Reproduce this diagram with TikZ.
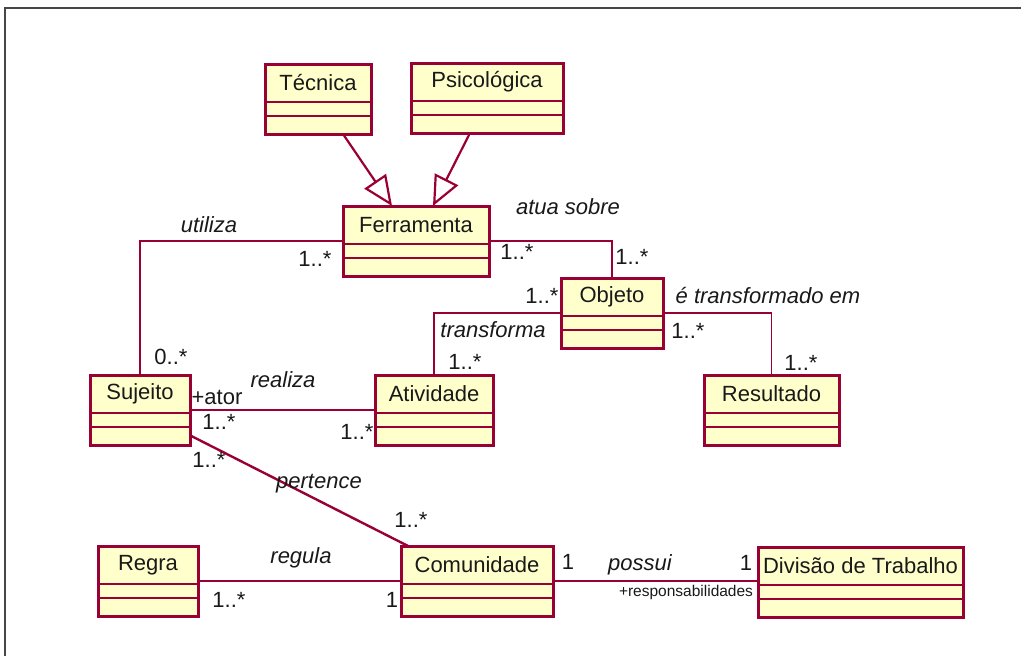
\documentclass[tikz,border=0pt]{standalone}
\usepackage{fontspec}
\setmainfont{Liberation Sans}
\usetikzlibrary{arrows.meta}
\definecolor{umlred}{RGB}{153,0,51}
\definecolor{umlfill}{RGB}{255,255,204}
\definecolor{framegray}{RGB}{70,70,70}
\definecolor{textgray}{RGB}{25,25,25}

% one class box: name, north west corner, width, title
\newcommand{\umlclass}[4]{%
  \node[classbox, minimum width=#3pt] (#1) at (#2) {};
  \node[classname] (#1-name) at ([yshift=-19pt]#1.north) {#4};
  \draw[classline] ([yshift=-38pt]#1.north west) -- ([yshift=-38pt]#1.north east);
  \draw[classline] ([yshift=-52pt]#1.north west) -- ([yshift=-52pt]#1.north east);
}

\begin{document}
\begin{tikzpicture}[x=1pt,y=-1pt,
  classbox/.style={draw=umlred, fill=umlfill, line width=3pt, minimum height=70pt,
    anchor=north west, inner sep=0pt, outer sep=0pt},
  classname/.style={text=textgray, font=\fontsize{22}{26}\selectfont, inner sep=0pt},
  classline/.style={umlred, line width=2pt},
  assoc/.style={umlred, line width=1.6pt},
  generalize/.style={umlred, line width=2.2pt, -{Triangle[open, length=30pt, width=26pt, line width=2.2pt]}},
  assocname/.style={text=textgray, font=\fontsize{22}{26}\selectfont\itshape, inner sep=0pt},
  mult/.style={text=textgray, font=\fontsize{22}{26}\selectfont, inner sep=0pt}]
\useasboundingbox (0,0) rectangle (1021,656);
\draw[framegray, line width=2pt] (5,656) -- (5,8) -- (1021,8);

\umlclass{tecnica}{265,64}{106}{Técnica}
\umlclass{psico}{411,63}{152}{Psicológica}
\umlclass{ferr}{343,206}{146}{Ferramenta}
\umlclass{sujeito}{90,375}{100}{Sujeito}
\umlclass{atividade}{375,375}{118}{Atividade}
\umlclass{objeto}{561,278}{102}{Objeto}
\umlclass{resultado}{704,375}{135}{Resultado}
\umlclass{regra}{98,546}{100}{Regra}
\umlclass{comunidade}{401,546}{152}{Comunidade}
\umlclass{divisao}{758,547}{205}{Divisão de Trabalho}

% generalizations
\draw[generalize] ([xshift=25pt]tecnica.south) -- ([xshift=-24pt]ferr.north);
\draw[generalize] ([xshift=-17pt]psico.south) -- ([xshift=17pt]ferr.north);

% associations
\draw[assoc] (sujeito.north) |- (ferr.west);
\draw[assoc] (ferr.east) -| (objeto.north);
\draw[assoc] (objeto.west) -| (atividade.north);
\draw[assoc] (objeto.east) -| (resultado.north);
\draw[assoc] (sujeito.east) -- (atividade.west);
\draw[assoc, line width=2.4pt] (sujeito) -- (comunidade);
\draw[assoc] (regra.east) -- (comunidade.west);
\draw[assoc] (comunidade.east) -- (comunidade.east -| divisao.west);

% association names
\node[assocname] (utiliza) at (209,225) {utiliza};
\node[assocname] (atua) at (568,207) {atua sobre};
\node[assocname] (transforma) at (493,330) {transforma};
\node[assocname] (transformado) at (768,296) {é transformado em};
\node[assocname] (realiza) at (283,380) {realiza};
\node[assocname] (pertence) at (319,484) {pertence};
\node[assocname] (regula) at (301,558) {regula};
\node[assocname] (possui) at (640,565) {possui};

% multiplicities and roles
\node[mult] (m-ferr-l) at (315,259) {1..*};
\node[mult] (m-suj-t) at (171,357) {0..*};
\node[mult] (m-ferr-r) at (517,252) {1..*};
\node[mult] (m-obj-t) at (632,257) {1..*};
\node[mult] (m-obj-l) at (542,296) {1..*};
\node[mult] (m-ativ-t) at (465,362) {1..*};
\node[mult] (m-obj-r) at (688,331) {1..*};
\node[mult] (m-res-t) at (801,363) {1..*};
\node[mult] (ator) at (217,397) {+ator};
\node[mult] (m-suj-r) at (219,422) {1..*};
\node[mult] (m-ativ-l) at (357,432) {1..*};
\node[mult] (m-suj-b) at (209,460) {1..*};
\node[mult] (m-com-t) at (411,520) {1..*};
\node[mult] (m-regra) at (229,600) {1..*};
\node[mult] (m-com-l) at (392,600) {1};
\node[mult] (m-com-r) at (568,562) {1};
\node[mult] (m-div) at (746,563) {1};
\node[mult, font=\fontsize{15.5}{18}\selectfont] (resp) at (686,592) {+responsabilidades};

\end{tikzpicture}
\end{document}
